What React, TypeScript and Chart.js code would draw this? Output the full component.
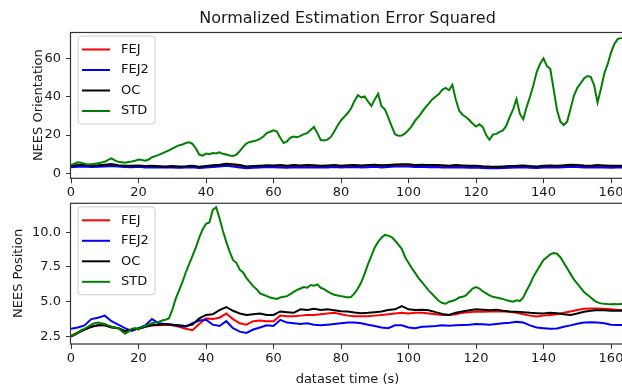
import React, { useEffect, useRef } from "react";
import { Chart, registerables } from "chart.js";

Chart.register(...registerables);

const FONT_FAMILY = "'DejaVu Sans', 'Liberation Sans', sans-serif";
const TITLE = "Normalized Estimation Error Squared";
const X_LABEL = "dataset time (s)";
const Y_LABEL_TOP = "NEES Orientation";
const Y_LABEL_BOTTOM = "NEES Position";
const SERIES = ["FEJ", "FEJ2", "OC", "STD"];
const SERIES_COLORS = ["#ff0000", "#0000ff", "#000000", "#008000"];

const X_MIN = 0;
const X_MAX = 163.85;
const X_STEP = 20;
const TOP_Y_MIN = -2.6;
const TOP_Y_MAX = 73.8;
const TOP_Y_STEP = 20;
const BOT_Y_MIN = 1.96;
const BOT_Y_MAX = 12.11;
const BOT_Y_STEP = 2.5;

// sample spacing (seconds) of each series
const FINE_STEP = 1;
const COARSE_STEP = 2;

// ---- NEES Orientation ----
const oriFej = [
  3.5, 3.8, 4.0, 3.6, 3.8, 4.0, 4.3, 3.9, 3.6, 3.5,
  3.7, 3.4, 3.4, 3.5, 3.2, 3.4, 3.2, 3.3, 3.5, 3.1,
  3.4, 3.7, 4.0, 4.4, 4.1, 3.7, 3.1, 3.3, 3.5, 3.7,
  3.6, 3.6, 3.4, 3.8, 3.5, 3.7, 3.7, 3.4, 3.6, 3.8,
  3.5, 3.7, 3.8, 3.6, 3.7, 3.9, 3.6, 3.8, 4.0, 4.2,
  4.1, 3.8, 3.9, 3.7, 3.8, 3.6, 3.5, 3.7, 3.5, 3.4,
  3.5, 3.2, 3.1, 3.0, 3.2, 3.3, 3.4, 3.6, 3.3, 3.2,
  3.4, 3.6, 3.5, 3.7, 3.9, 3.8, 3.6, 3.5, 3.7, 3.6,
  3.4, 3.5, 3.5,
];
const oriFej2 = [
  3.2, 3.4, 3.5, 3.3, 3.4, 3.6, 3.8, 3.5, 3.3, 3.2,
  3.4, 3.1, 3.0, 3.2, 3.0, 3.1, 2.9, 3.0, 3.2, 2.8,
  3.0, 3.3, 3.6, 3.9, 3.5, 3.1, 2.7, 2.9, 3.1, 3.3,
  3.2, 3.0, 2.9, 3.2, 3.0, 3.1, 3.2, 3.0, 3.1, 3.3,
  3.1, 3.2, 3.3, 3.1, 3.2, 3.4, 3.1, 3.3, 3.5, 3.6,
  3.5, 3.3, 3.4, 3.2, 3.3, 3.1, 3.0, 3.2, 3.0, 2.9,
  3.0, 2.8, 2.7, 2.6, 2.8, 2.9, 3.0, 3.2, 2.9, 2.8,
  3.0, 3.1, 3.0, 3.2, 3.4, 3.3, 3.1, 3.0, 3.2, 3.1,
  2.9, 3.0, 3.0,
];
const oriOc = [
  3.8, 4.3, 4.6, 4.0, 4.2, 4.5, 4.8, 4.2, 4.0, 3.9,
  4.1, 3.8, 3.9, 3.7, 3.5, 3.8, 3.6, 3.7, 3.9, 3.4,
  3.8, 4.2, 4.5, 5.0, 4.7, 4.3, 3.6, 3.8, 4.0, 4.2,
  4.1, 4.3, 4.0, 4.4, 4.1, 4.3, 4.2, 3.9, 4.1, 4.3,
  4.0, 4.2, 4.4, 4.1, 4.3, 4.5, 4.2, 4.4, 4.6, 4.8,
  4.7, 4.4, 4.5, 4.3, 4.4, 4.2, 4.0, 4.3, 4.1, 3.9,
  4.0, 3.7, 3.5, 3.4, 3.6, 3.8, 3.9, 4.1, 3.8, 3.6,
  3.9, 4.1, 4.0, 4.2, 4.5, 4.3, 4.1, 4.0, 4.3, 4.1,
  3.9, 4.0, 4.0,
];
const oriStd = [
  4.3, 5.0, 5.8, 5.5, 5.0, 4.6, 4.8, 5.0, 5.3, 5.6,
  6.0, 7.0, 7.8, 6.8, 6.0, 5.8, 5.5, 5.9, 6.2, 6.6,
  7.2, 6.9, 6.6, 7.2, 8.4, 9.0, 9.6, 10.4, 11.2, 12.0,
  12.9, 13.8, 14.6, 15.0, 15.8, 16.2, 15.4, 13.0, 9.8, 9.2,
  10.3, 10.0, 10.6, 10.4, 11.0, 10.2, 9.8, 9.3, 9.0, 9.8,
  11.6, 13.8, 15.6, 16.4, 16.8, 17.2, 18.0, 19.2, 21.0, 21.7,
  22.4, 21.8, 18.6, 15.8, 16.6, 18.6, 19.2, 18.8, 19.6, 20.5,
  21.0, 22.6, 24.3, 21.0, 17.4, 17.2, 17.6, 19.0, 21.8, 25.0,
  27.6, 29.6, 31.5, 34.0, 37.8, 40.8, 39.6, 40.2, 37.5, 35.2,
  38.6, 41.5, 35.0, 33.4, 29.2, 24.6, 20.4, 19.6, 19.8, 20.8,
  22.6, 24.8, 27.6, 29.6, 32.0, 34.4, 36.4, 38.6, 40.0, 41.4,
  43.6, 44.6, 43.4, 46.2, 38.5, 32.8, 30.6, 29.4, 27.8, 26.0,
  24.4, 25.6, 24.2, 20.0, 17.5, 20.2, 20.6, 21.6, 22.4, 25.0,
  29.5, 33.4, 38.8, 31.0, 28.2, 34.6, 40.0, 46.0, 53.0, 57.2,
  60.0, 56.0, 54.6, 44.0, 33.0, 27.0, 25.2, 27.0, 33.6, 40.5,
  44.6, 47.0, 49.5, 50.8, 50.4, 46.0, 37.0, 44.0, 52.0, 57.0,
  63.0, 67.5, 70.2, 70.6, 70.8,
];

// ---- NEES Position ----
const posFej = [
  2.55, 2.8, 3.0, 3.2, 3.3, 3.3, 3.2, 3.1, 2.85, 3.0,
  3.05, 3.2, 3.3, 3.3, 3.35, 3.3, 3.2, 3.05, 2.95, 3.4,
  3.8, 3.75, 3.85, 4.15, 3.75, 3.45, 3.35, 3.6, 3.65, 3.6,
  3.6, 4.0, 3.95, 3.95, 4.0, 4.05, 4.05, 4.1, 4.15, 4.2,
  4.1, 4.0, 3.95, 3.95, 3.95, 4.0, 4.05, 4.1, 4.15, 4.2,
  4.15, 4.2, 4.2, 4.15, 4.1, 4.05, 4.05, 4.1, 4.2, 4.25,
  4.3, 4.28, 4.3, 4.3, 4.3, 4.28, 4.2, 4.1, 4.0, 3.93,
  4.0, 4.05, 4.1, 4.2, 4.3, 4.4, 4.5, 4.52, 4.52, 4.5,
  4.45, 4.4, 4.4,
];
const posFej2 = [
  3.05, 3.15, 3.3, 3.75, 3.85, 4.0, 3.6, 3.35, 3.1, 2.9,
  3.1, 3.3, 3.75, 3.45, 3.4, 3.35, 3.25, 3.2, 3.45, 3.65,
  3.7, 3.35, 3.25, 3.6, 3.1, 2.85, 2.75, 3.0, 3.15, 3.3,
  3.25, 3.7, 3.5, 3.45, 3.4, 3.45, 3.35, 3.3, 3.35, 3.4,
  3.45, 3.5, 3.5, 3.45, 3.35, 3.25, 3.15, 3.1, 3.3, 3.3,
  3.15, 3.1, 3.2, 3.22, 3.25, 3.3, 3.28, 3.3, 3.33, 3.35,
  3.4, 3.38, 3.35, 3.4, 3.45, 3.48, 3.55, 3.5, 3.3, 3.15,
  3.1, 3.05, 3.08, 3.2, 3.3, 3.42, 3.5, 3.52, 3.5, 3.45,
  3.35, 3.33, 3.33,
];
const posOc = [
  2.5, 2.75, 3.0, 3.2, 3.3, 3.3, 3.15, 3.1, 2.9, 3.0,
  3.05, 3.2, 3.3, 3.35, 3.4, 3.35, 3.3, 3.25, 3.35, 3.8,
  4.05, 4.1, 4.4, 4.62, 4.35, 4.15, 4.05, 4.1, 4.15, 4.05,
  4.05, 4.3, 4.25, 4.2, 4.45, 4.4, 4.5, 4.4, 4.45, 4.38,
  4.32, 4.3, 4.22, 4.17, 4.2, 4.25, 4.3, 4.4, 4.45, 4.68,
  4.45, 4.4, 4.42, 4.38, 4.25, 4.12, 4.05, 4.2, 4.3, 4.38,
  4.45, 4.42, 4.38, 4.42, 4.35, 4.3, 4.28, 4.25, 4.2, 4.17,
  4.15, 4.2, 4.17, 4.1, 4.05, 4.15, 4.28, 4.35, 4.4, 4.38,
  4.35, 4.35, 4.35,
];
const posStd = [
  2.55, 2.6, 2.75, 2.95, 3.05, 3.2, 3.35, 3.45, 3.5, 3.45,
  3.4, 3.3, 3.2, 3.15, 3.1, 2.9, 2.7, 2.85, 3.05, 3.1,
  3.0, 3.2, 3.25, 3.35, 3.45, 3.5, 3.55, 3.65, 3.7, 3.8,
  4.4, 5.2, 5.8, 6.4, 7.1, 7.7, 8.3, 8.9, 9.6, 10.2,
  10.6, 10.7, 11.6, 11.8, 11.0, 10.1, 9.3, 8.6, 8.0, 7.8,
  7.3, 7.1, 6.7, 6.4, 6.1, 5.9, 5.6, 5.5, 5.4, 5.3,
  5.25, 5.2, 5.3, 5.35, 5.4, 5.55, 5.7, 5.85, 5.95, 6.05,
  6.0, 6.2, 6.15, 6.25, 6.0, 5.9, 5.75, 5.6, 5.5, 5.45,
  5.4, 5.35, 5.3, 5.35, 5.6, 5.95, 6.4, 7.0, 7.7, 8.3,
  8.9, 9.3, 9.6, 9.8, 9.75, 9.65, 9.4, 9.1, 8.8, 8.2,
  7.8, 7.4, 7.05, 6.7, 6.4, 6.1, 5.8, 5.55, 5.3, 5.05,
  4.9, 4.85, 5.0, 5.05, 5.15, 5.3, 5.35, 5.45, 5.7, 5.95,
  6.05, 5.95, 5.75, 5.6, 5.45, 5.35, 5.3, 5.25, 5.2, 5.1,
  5.05, 5.0, 5.1, 5.05, 5.3, 5.8, 6.25, 6.8, 7.2, 7.6,
  8.0, 8.2, 8.4, 8.5, 8.45, 8.2, 7.8, 7.4, 7.0, 6.6,
  6.3, 6.0, 5.7, 5.5, 5.3, 5.1, 4.95, 4.88, 4.85, 4.83,
  4.82, 4.83, 4.82, 4.83, 4.83,
];

function toPoints(values: number[], step: number) {
  return values.map((y, i) => ({ x: i * step, y }));
}

const legendPlugin = {
  id: "mplLegend",
  afterDraw(chart: any) {
    const { ctx, chartArea } = chart;
    const x0 = chartArea.left + 7;
    const y0 = chartArea.top + 4;
    const w = 77;
    const h = 88;
    const r = 3;
    ctx.save();
    ctx.beginPath();
    ctx.moveTo(x0 + r, y0);
    ctx.lineTo(x0 + w - r, y0);
    ctx.arcTo(x0 + w, y0, x0 + w, y0 + r, r);
    ctx.lineTo(x0 + w, y0 + h - r);
    ctx.arcTo(x0 + w, y0 + h, x0 + w - r, y0 + h, r);
    ctx.lineTo(x0 + r, y0 + h);
    ctx.arcTo(x0, y0 + h, x0, y0 + h - r, r);
    ctx.lineTo(x0, y0 + r);
    ctx.arcTo(x0, y0, x0 + r, y0, r);
    ctx.closePath();
    ctx.fillStyle = "rgba(255,255,255,0.8)";
    ctx.fill();
    ctx.strokeStyle = "#cccccc";
    ctx.lineWidth = 1;
    ctx.stroke();
    chart.data.datasets.forEach((ds: any, i: number) => {
      const y = y0 + 13.5 + i * 20.5;
      ctx.strokeStyle = ds.borderColor;
      ctx.lineWidth = 2;
      ctx.beginPath();
      ctx.moveTo(x0 + 4, y);
      ctx.lineTo(x0 + 32, y);
      ctx.stroke();
      ctx.fillStyle = "#111";
      ctx.font = `13px ${FONT_FAMILY}`;
      ctx.textBaseline = "middle";
      ctx.textAlign = "left";
      ctx.fillText(ds.label, x0 + 43, y);
    });
    ctx.restore();
  },
};

const framePlugin = {
  id: "mplFrame",
  afterDatasetsDraw(chart: any) {
    const { ctx, chartArea } = chart;
    ctx.save();
    ctx.strokeStyle = "#333";
    ctx.lineWidth = 1.2;
    ctx.strokeRect(
      chartArea.left - 0.5,
      chartArea.top + 0.5,
      chartArea.right - chartArea.left + 0.5,
      chartArea.bottom - chartArea.top - 0.5
    );
    ctx.restore();
  },
};

type PanelProps = {
  top: number;
  height: number;
  series: number[][];
  steps: number[];
  yMin: number;
  yMax: number;
  yStep: number;
  yLabel: string;
  yLabelPad: number;
  yDecimals: number;
  showTitle: boolean;
  showXLabel: boolean;
  padTop: number;
  xAxisHeight: number;
};

function Panel(p: PanelProps) {
  const ref = useRef<HTMLCanvasElement | null>(null);
  useEffect(() => {
    if (!ref.current) return;
    const tickFont = { family: FONT_FAMILY, size: 13 };
    const chart = new Chart(ref.current, {
      type: "line",
      data: {
        datasets: SERIES.map((name, i) => ({
          label: name,
          data: toPoints(p.series[i], p.steps[i]),
          borderColor: SERIES_COLORS[i],
          backgroundColor: SERIES_COLORS[i],
          borderWidth: 2,
          pointRadius: 0,
          tension: 0,
          fill: false,
          order: SERIES.length - i,
        })),
      },
      options: {
        responsive: false,
        animation: false,
        events: [],
        layout: { padding: { top: p.padTop, right: 16, left: 0, bottom: 0 } },
        plugins: {
          legend: { display: false },
          tooltip: { enabled: false },
          title: {
            display: p.showTitle,
            text: TITLE,
            fullSize: false,
            color: "#1a1a1a",
            font: { family: FONT_FAMILY, size: 16, weight: "normal" as any },
            padding: { top: 9, bottom: 3.8 },
          },
        },
        scales: {
          x: {
            type: "linear",
            min: X_MIN,
            max: X_MAX,
            afterFit: (s: any) => {
              s.height = p.xAxisHeight;
            },
            border: { display: false },
            grid: {
              drawOnChartArea: false,
              drawTicks: true,
              tickLength: 5,
              color: "#333",
            },
            ticks: {
              stepSize: X_STEP,
              includeBounds: false,
              maxRotation: 0,
              autoSkip: false,
              padding: 2,
              color: "#1a1a1a",
              font: tickFont,
            },
            title: {
              display: p.showXLabel,
              text: X_LABEL,
              color: "#1a1a1a",
              font: tickFont,
              padding: { top: 0, bottom: 2.5 },
            },
          },
          y: {
            type: "linear",
            min: p.yMin,
            max: p.yMax,
            afterFit: (s: any) => {
              s.width = 71;
            },
            border: { display: false },
            grid: {
              drawOnChartArea: false,
              drawTicks: true,
              tickLength: 5,
              color: "#333",
            },
            ticks: {
              stepSize: p.yStep,
              includeBounds: false,
              padding: 5,
              color: "#1a1a1a",
              font: tickFont,
              callback: (v: any) => Number(v).toFixed(p.yDecimals),
            },
            title: {
              display: true,
              text: p.yLabel,
              color: "#1a1a1a",
              font: tickFont,
              padding: { top: p.yLabelPad, bottom: 0 },
            },
          },
        },
      },
      plugins: [framePlugin, legendPlugin],
    } as any);
    return () => chart.destroy();
  }, []);
  return (
    <canvas
      ref={ref}
      width={640}
      height={p.height}
      style={{ position: "absolute", left: 0, top: p.top, width: 640, height: p.height }}
    />
  );
}

export default function App() {
  return (
    <div
      style={{
        position: "absolute",
        left: 0,
        top: 0,
        width: 622,
        height: 386,
        overflow: "hidden",
        background: "#ffffff",
      }}
    >
      <Panel
        top={0}
        height={200}
        series={[oriFej, oriFej2, oriOc, oriStd]}
        steps={[COARSE_STEP, COARSE_STEP, COARSE_STEP, FINE_STEP]}
        yMin={TOP_Y_MIN}
        yMax={TOP_Y_MAX}
        yStep={TOP_Y_STEP}
        yLabel={Y_LABEL_TOP}
        yLabelPad={30.7}
        yDecimals={0}
        showTitle={true}
        showXLabel={false}
        padTop={0}
        xAxisHeight={21.7}
      />
      <Panel
        top={190}
        height={200}
        series={[posFej, posFej2, posOc, posStd]}
        steps={[COARSE_STEP, COARSE_STEP, COARSE_STEP, FINE_STEP]}
        yMin={BOT_Y_MIN}
        yMax={BOT_Y_MAX}
        yStep={BOT_Y_STEP}
        yLabel={Y_LABEL_BOTTOM}
        yLabelPad={11.2}
        yDecimals={1}
        showTitle={false}
        showXLabel={true}
        padTop={12.7}
        xAxisHeight={46}
      />
    </div>
  );
}
